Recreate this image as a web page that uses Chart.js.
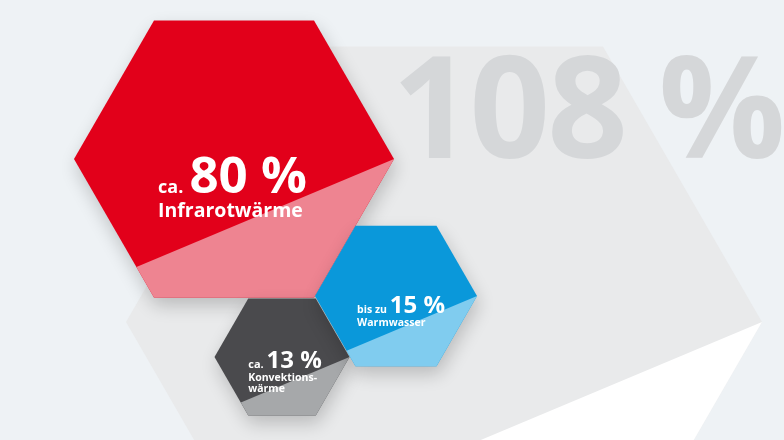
<!DOCTYPE html>
<html lang="de">
<head>
<meta charset="utf-8">
<script src="https://cdn.jsdelivr.net/npm/chart.js@4.4.0/dist/chart.umd.min.js"></script>
<style>
  html, body { margin: 0; padding: 0; background: #eef2f5; }
  #wrap { width: 784px; height: 440px; }
  canvas { display: block; }
</style>
</head>
<body>
<div id="wrap"><canvas id="hexChart" width="784" height="440"></canvas></div>
<script>
// Data
const categories = ["Infrarotwärme", "Warmwasser", "Konvektionswärme"];
const labelLines = [["Infrarotwärme"], ["Warmwasser"], ["Konvektions-", "wärme"]];
const prefixes = ["ca.", "bis zu", "ca."];
const values = [80, 15, 13];
const totalValue = 108;

// Honeycomb layout, in scale units (x 0..784, y 0..440)
const hexX = [234, 396, 282];
const hexY = [159, 296, 357];
const hexSide = [160, 81, 67.5];
const bgHex = { x: 444, y: 322, side: 318 };
const drawOrder = [0, 2, 1];

// Styles
const colorsTop = ["#e2001a", "#0a98da", "#4a4a4d"];
const colorsBottom = ["#ee8491", "#80ccef", "#a6a8aa"];
const prefixSize = [18, 10.5, 11];
const numberSize = [51, 24, 24];
const labelSize = [19.5, 10.5, 10.5];
const labelGap = [24, 13, 13];
const lineGap = [20, 11, 11];
const textDx = [-0.475, -0.48, -0.5];
const textDy = [0.213, 0.21, 0.163];
const FONT = "'Open Sans', 'DejaVu Sans', sans-serif";
const SPLIT_T = 0.78;

function hexPoints(cx, cy, s) {
  const h = s * Math.sqrt(3) / 2;
  return {
    right: [cx + s, cy],
    bottomRight: [cx + s / 2, cy + h],
    bottomLeft: [cx - s / 2, cy + h],
    left: [cx - s, cy],
    topLeft: [cx - s / 2, cy - h],
    topRight: [cx + s / 2, cy - h],
  };
}

function poly(ctx, pts) {
  ctx.beginPath();
  ctx.moveTo(pts[0][0], pts[0][1]);
  for (let i = 1; i < pts.length; i++) ctx.lineTo(pts[i][0], pts[i][1]);
  ctx.closePath();
}

// Two-tone hexagon: lower part cut by a line from the right corner
function drawHex(ctx, cx, cy, s, top, bottom, shadow) {
  const p = hexPoints(cx, cy, s);
  const cut = [
    p.left[0] + (p.bottomLeft[0] - p.left[0]) * SPLIT_T,
    p.left[1] + (p.bottomLeft[1] - p.left[1]) * SPLIT_T,
  ];
  const all = [p.right, p.bottomRight, p.bottomLeft, p.left, p.topLeft, p.topRight];
  ctx.save();
  if (shadow) {
    ctx.shadowColor = "rgba(0, 0, 0, 0.2)";
    ctx.shadowBlur = 18;
    ctx.shadowOffsetX = 2;
    ctx.shadowOffsetY = 8;
  }
  ctx.fillStyle = top;
  poly(ctx, all);
  ctx.fill();
  ctx.restore();
  ctx.fillStyle = bottom;
  poly(ctx, [p.right, p.bottomRight, p.bottomLeft, cut]);
  ctx.fill();
}

const hexPlugin = {
  id: "hexagons",
  beforeDraw(chart) {
    const ctx = chart.ctx;
    ctx.save();
    ctx.fillStyle = "#eef2f5";
    ctx.fillRect(0, 0, chart.width, chart.height);
    ctx.restore();
  },
  beforeDatasetsDraw(chart) {
    const ctx = chart.ctx;
    const xs = chart.scales.x;
    const ys = chart.scales.y;
    const px = (v) => xs.getPixelForValue(v);
    const py = (v) => ys.getPixelForValue(v);
    const len = (cx, s) => px(cx + s) - px(cx);

    // big background hexagon with the total
    drawHex(ctx, px(bgHex.x), py(bgHex.y), len(bgHex.x, bgHex.side), "#e9eaeb", "#ffffff", false);
    ctx.save();
    ctx.fillStyle = "#d5d7d9";
    ctx.font = "bold 141px " + FONT;
    ctx.textBaseline = "alphabetic";
    ctx.letterSpacing = "-3px";
    ctx.fillText(totalValue + " %", px(392), py(158));
    ctx.restore();

    const meta = chart.getDatasetMeta(0);
    drawOrder.forEach((i) => {
      const pt = meta.data[i];
      const s = len(hexX[i], hexSide[i]);
      drawHex(ctx, pt.x, pt.y, s, colorsTop[i], colorsBottom[i], true);

      // labels
      ctx.save();
      ctx.fillStyle = "#ffffff";
      ctx.textBaseline = "alphabetic";
      const tx = pt.x + textDx[i] * s;
      const ty = pt.y + textDy[i] * s;
      ctx.font = "bold " + prefixSize[i] + "px " + FONT;
      ctx.fillText(prefixes[i], tx, ty);
      const pw = ctx.measureText(prefixes[i]).width;
      ctx.font = "bold " + numberSize[i] + "px " + FONT;
      ctx.fillText(values[i] + " %", tx + pw + numberSize[i] * 0.12, ty);
      ctx.font = "bold " + labelSize[i] + "px " + FONT;
      labelLines[i].forEach((line, k) => {
        ctx.fillText(line, tx, ty + labelGap[i] + k * lineGap[i]);
      });
      ctx.restore();
    });
  },
};

new Chart(document.getElementById("hexChart"), {
  type: "scatter",
  data: {
    labels: categories,
    datasets: [{
      label: "Wärmeanteile",
      data: values.map((v, i) => ({ x: hexX[i], y: hexY[i], v: v })),
      pointRadius: 0,
      pointHoverRadius: 0,
    }],
  },
  options: {
    responsive: false,
    animation: false,
    devicePixelRatio: 1,
    layout: { padding: 0 },
    events: [],
    plugins: {
      legend: { display: false },
      tooltip: { enabled: false },
    },
    scales: {
      x: { type: "linear", min: 0, max: 784, display: false },
      y: { type: "linear", min: 0, max: 440, reverse: true, display: false },
    },
  },
  plugins: [hexPlugin],
});
</script>
</body>
</html>
